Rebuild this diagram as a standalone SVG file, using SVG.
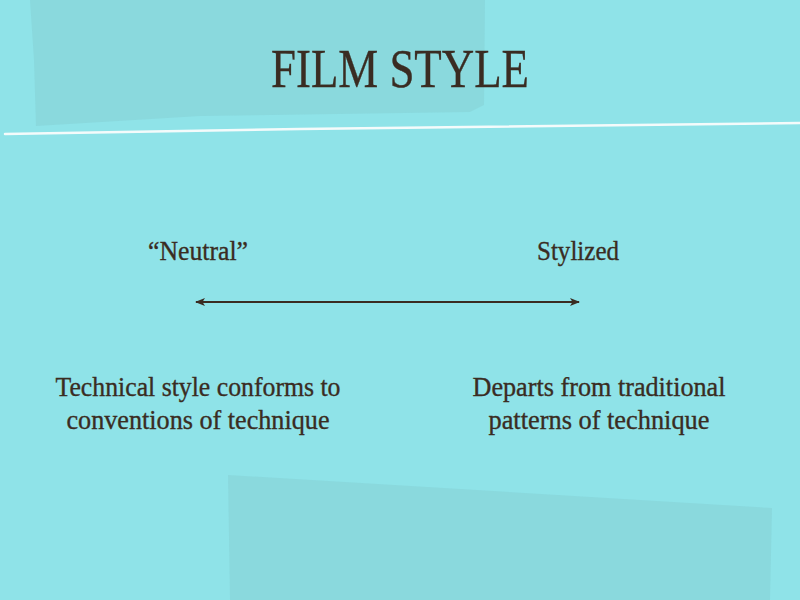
<svg xmlns="http://www.w3.org/2000/svg" width="800" height="600" viewBox="0 0 800 600">
  <defs>
    <style>
      .t { font-family: "Liberation Serif", "DejaVu Serif", serif; fill: #3a2c22; stroke: #3a2c22; stroke-width: 0.35; text-anchor: middle; }
      .title { font-size: 54px; }
      .lbl { font-size: 28px; }
      .body { font-size: 28px; }
    </style>
    <marker id="head" viewBox="0 0 10 10" refX="9" refY="5" markerWidth="10" markerHeight="10" markerUnits="userSpaceOnUse" orient="auto-start-reverse">
      <path d="M0,1 L10,5 L0,9 L2.5,5 Z" fill="#3a2c22"/>
    </marker>
  </defs>

  <!-- background -->
  <rect x="0" y="0" width="800" height="600" fill="#8fe3e8"/>
  <!-- worn paper patches -->
  <path d="M30,0 L485,0 L484,105 L470,112 L200,116 L36,126 L34,60 Z" fill="#88d4d8" opacity="0.7"/>
  <path d="M228,475 L772,508 L770,600 L230,600 Z" fill="#88d4d8" opacity="0.7"/>
  <!-- divider -->
  <path d="M5,134 L300,129 L800,123" stroke="#f4fbfb" stroke-width="2.5" fill="none" stroke-linecap="round"/>

  <g id="title">
    <text class="t title" x="400" y="87" textLength="258" lengthAdjust="spacingAndGlyphs">FILM STYLE</text>
  </g>

  <g id="neutral">
    <text class="t lbl" x="198" y="260" textLength="100" lengthAdjust="spacingAndGlyphs">“Neutral”</text>
    <text class="t body" x="198" y="396" textLength="285" lengthAdjust="spacingAndGlyphs">Technical style conforms to</text>
    <text class="t body" x="198" y="429" textLength="263" lengthAdjust="spacingAndGlyphs">conventions of technique</text>
  </g>

  <g id="stylized">
    <text class="t lbl" x="578" y="260" textLength="82" lengthAdjust="spacingAndGlyphs">Stylized</text>
    <text class="t body" x="599" y="396" textLength="253" lengthAdjust="spacingAndGlyphs">Departs from traditional</text>
    <text class="t body" x="599" y="429" textLength="221" lengthAdjust="spacingAndGlyphs">patterns of technique</text>
  </g>

  <g id="connectors">
    <line x1="196" y1="302" x2="579" y2="302" stroke="#3a2c22" stroke-width="1.8" marker-start="url(#head)" marker-end="url(#head)"/>
  </g>
</svg>
